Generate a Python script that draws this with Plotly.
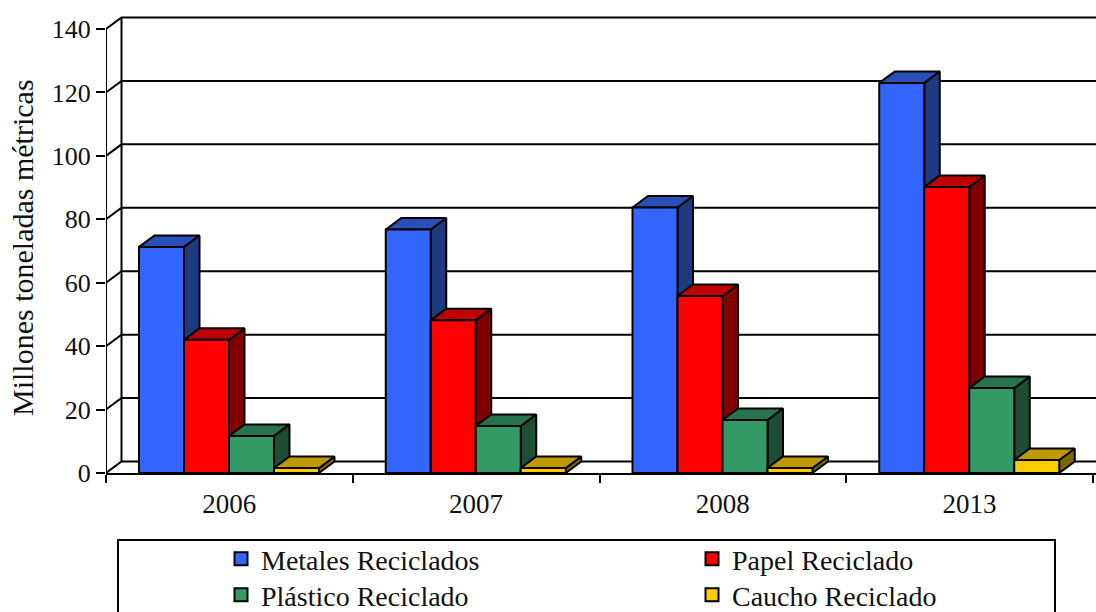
import plotly.graph_objects as go

years = ["2006", "2007", "2008", "2013"]
metales = [71.3, 76.8, 83.7, 123]
papel = [42, 48.2, 55.8, 90.2]
plastico = [11.7, 14.8, 16.7, 26.8]
caucho = [1.6, 1.6, 1.6, 4.1]
series_names = ["Metales Reciclados", "Papel Reciclado", "Plástico Reciclado", "Caucho Reciclado"]
y_ticks = [0, 20, 40, 60, 80, 100, 120, 140]

W, H = 1096, 612
L, BASE = 106, 473
UNIT_X = 246.75
UNIT_Y = (473 - 29) / 140
XMAX = (W - L) / UNIT_X
YMAX = BASE / UNIT_Y
DX = 15.5 / UNIT_X
DY = 11.5 / UNIT_Y
BAR = 45.0 / UNIT_X
START = 33.0 / UNIT_X
FONT = "Liberation Serif"

colors = [
    ("#3366FF", "#2850B8", "#1F3A80"),
    ("#FF0000", "#BF0000", "#800000"),
    ("#339966", "#267350", "#1E4D36"),
    ("#FFCC00", "#BF9900", "#806600"),
]
all_values = [metales, papel, plastico, caucho]

fig = go.Figure()

# Walls and gridlines
gx, gy = [], []
for v in y_ticks:
    gx += [0, DX, XMAX, None]
    gy += [v, v + DY, v + DY, None]
gx += [0, 0, None, DX, DX]
gy += [0, 140, None, DY, 140 + DY]
fig.add_trace(go.Scatter(x=gx, y=gy, mode="lines", line=dict(color="black", width=2),
                         showlegend=False, hoverinfo="skip", cliponaxis=False))


def add_face(xs, ys, fill):
    fig.add_trace(go.Scatter(x=xs, y=ys, mode="lines", fill="toself", fillcolor=fill,
                             line=dict(color="black", width=2), showlegend=False,
                             hoverinfo="skip", cliponaxis=False))


for s, vals in enumerate(all_values):
    fx, fy, tx, ty, sx, sy = [], [], [], [], [], []
    for c, v in enumerate(vals):
        x0 = c + START + s * BAR
        x1 = x0 + BAR
        fx += [x0, x1, x1, x0, x0, None]
        fy += [0, 0, v, v, 0, None]
        tx += [x0, x1, x1 + DX, x0 + DX, x0, None]
        ty += [v, v, v + DY, v + DY, v, None]
        sx += [x1, x1 + DX, x1 + DX, x1, x1, None]
        sy += [0, DY, v + DY, v, 0, None]
    add_face(sx, sy, colors[s][2])
    add_face(tx, ty, colors[s][1])
    add_face(fx, fy, colors[s][0])

# Legend entries
legend_pos = [(221, 559), (692, 559), (221, 595), (692, 595)]
layout_legends = {}
for i, name in enumerate(series_names):
    key = "legend" if i == 0 else f"legend{i + 1}"
    fig.add_trace(go.Scatter(x=[None], y=[None], mode="markers", name=name, legend=key,
                             marker=dict(symbol="square", size=13, color=colors[i][0],
                                         line=dict(color="black", width=2))))
    px, py = legend_pos[i]
    layout_legends[key] = dict(xref="container", yref="container", x=px / W, y=1 - py / H,
                               xanchor="left", yanchor="middle", bgcolor="rgba(0,0,0,0)",
                               borderwidth=0, font=dict(family=FONT, size=28, color="#111111"))

fig.update_layout(
    width=W, height=H, autosize=False,
    margin=dict(l=L, r=0, t=0, b=H - BASE, autoexpand=False),
    paper_bgcolor="white", plot_bgcolor="white",
    font=dict(family=FONT, size=27, color="#111111"),
    xaxis=dict(range=[0, XMAX], tickvals=[i + 0.5 for i in range(len(years))], ticktext=years,
               ticks="outside", ticklen=6, tickcolor="rgba(0,0,0,0)", showgrid=False,
               zeroline=False, showline=True, linecolor="black", linewidth=2,
               tickfont=dict(family=FONT, size=27, color="#111111"),
               minor=dict(tickvals=[0, 1, 2, 3, 4], ticks="outside", ticklen=8,
                          tickwidth=2, tickcolor="black", showgrid=False)),
    yaxis=dict(range=[0, YMAX], tickvals=y_ticks, ticks="outside", ticklen=9, tickwidth=2,
               tickcolor="black", showgrid=False, zeroline=False, showline=False,
               tickfont=dict(family=FONT, size=26, color="#111111")),
    shapes=[dict(type="rect", xref="paper", yref="paper",
                 x0=(118 - L) / (W - L), x1=(1055 - L) / (W - L),
                 y0=(BASE - 640) / BASE, y1=(BASE - 540) / BASE,
                 line=dict(color="black", width=2), fillcolor="rgba(0,0,0,0)")],
    annotations=[dict(text="Millones toneladas métricas", xref="paper", yref="paper",
                      x=(23 - L) / (W - L), y=(BASE - 248) / BASE, xanchor="center",
                      yanchor="middle", textangle=-90, showarrow=False,
                      font=dict(family=FONT, size=30, color="#111111"))],
    **layout_legends,
)

fig.write_html("out.html", config={"displayModeBar": False},
               post_script="document.body.style.margin='0';")
